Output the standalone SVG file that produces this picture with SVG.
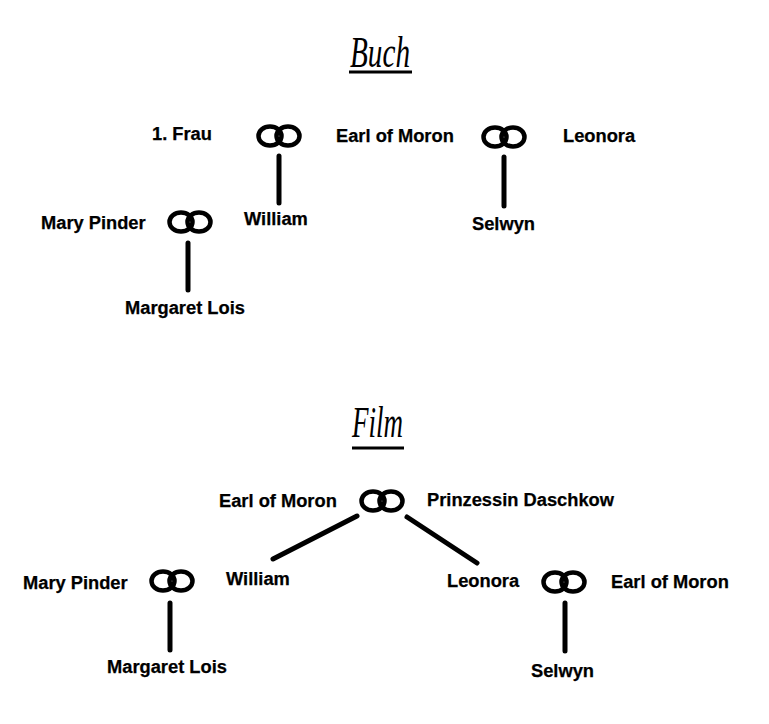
<svg xmlns="http://www.w3.org/2000/svg" width="769" height="724" viewBox="0 0 769 724">
<defs>
<style>
.t{font-family:"Liberation Sans",Arial,sans-serif;font-weight:bold;font-size:18.3px;fill:#000;stroke:#000;stroke-width:0.25}
.h{font-family:"Liberation Serif","DejaVu Serif",serif;font-style:italic;font-size:44px;fill:#000}
.ln{stroke:#000;stroke-width:5;stroke-linecap:round;fill:none}
.ul{stroke:#000;stroke-width:3;fill:none}
.r{fill:none;stroke:#000;stroke-width:4.5}
</style>
<g id="ring">
<ellipse class="r" cx="-9" cy="0" rx="11.5" ry="9.5"/>
<ellipse class="r" cx="9" cy="0" rx="11.5" ry="9.5"/>
</g>
</defs>
<rect width="769" height="724" fill="#fff"/>
<g id="title-buch">
<text class="h" x="350" y="67" textLength="60" lengthAdjust="spacingAndGlyphs">Buch</text>
<line class="ul" x1="349" y1="72" x2="412" y2="72"/>
</g>
<g id="title-film">
<text class="h" x="352" y="437" textLength="51" lengthAdjust="spacingAndGlyphs">Film</text>
<line class="ul" x1="352" y1="448" x2="404" y2="448"/>
</g>
<g id="buch-frau"><text class="t" x="152" y="140">1. Frau</text></g>
<g id="buch-ring1"><use href="#ring" x="279" y="136"/></g>
<g id="buch-william"><text class="t" x="244" y="225">William</text></g>
<g id="buch-earl"><text class="t" x="336" y="142">Earl of Moron</text></g>
<g id="buch-ring2"><use href="#ring" x="504" y="137"/></g>
<g id="buch-leonora"><text class="t" x="563" y="142">Leonora</text></g>
<g id="buch-selwyn"><text class="t" x="472" y="230">Selwyn</text></g>
<g id="buch-mary"><text class="t" x="41" y="229">Mary Pinder</text></g>
<g id="buch-ring3"><use href="#ring" x="190" y="222"/></g>
<g id="buch-margaret"><text class="t" x="125" y="314">Margaret Lois</text></g>
<g id="film-earl"><text class="t" x="219" y="507">Earl of Moron</text></g>
<g id="film-ring1"><use href="#ring" x="382" y="501"/></g>
<g id="film-prinzessin"><text class="t" x="427" y="506">Prinzessin Daschkow</text></g>
<g id="film-william"><text class="t" x="226" y="585">William</text></g>
<g id="film-leonora"><text class="t" x="447" y="587">Leonora</text></g>
<g id="film-ring3"><use href="#ring" x="564" y="582"/></g>
<g id="film-earl2"><text class="t" x="611" y="588">Earl of Moron</text></g>
<g id="film-selwyn"><text class="t" x="531" y="677">Selwyn</text></g>
<g id="film-mary"><text class="t" x="23" y="589">Mary Pinder</text></g>
<g id="film-ring2"><use href="#ring" x="172" y="581"/></g>
<g id="film-margaret"><text class="t" x="107" y="673">Margaret Lois</text></g>
<g id="connectors">
<line class="ln" x1="279" y1="156" x2="279" y2="203"/>
<line class="ln" x1="504" y1="157" x2="504" y2="206"/>
<line class="ln" x1="188" y1="243" x2="188" y2="290"/>
<line class="ln" x1="357" y1="516" x2="273" y2="559"/>
<line class="ln" x1="407" y1="517" x2="477" y2="563"/>
<line class="ln" x1="170" y1="603" x2="170" y2="650"/>
<line class="ln" x1="565" y1="603" x2="565" y2="651"/>
</g>
</svg>
